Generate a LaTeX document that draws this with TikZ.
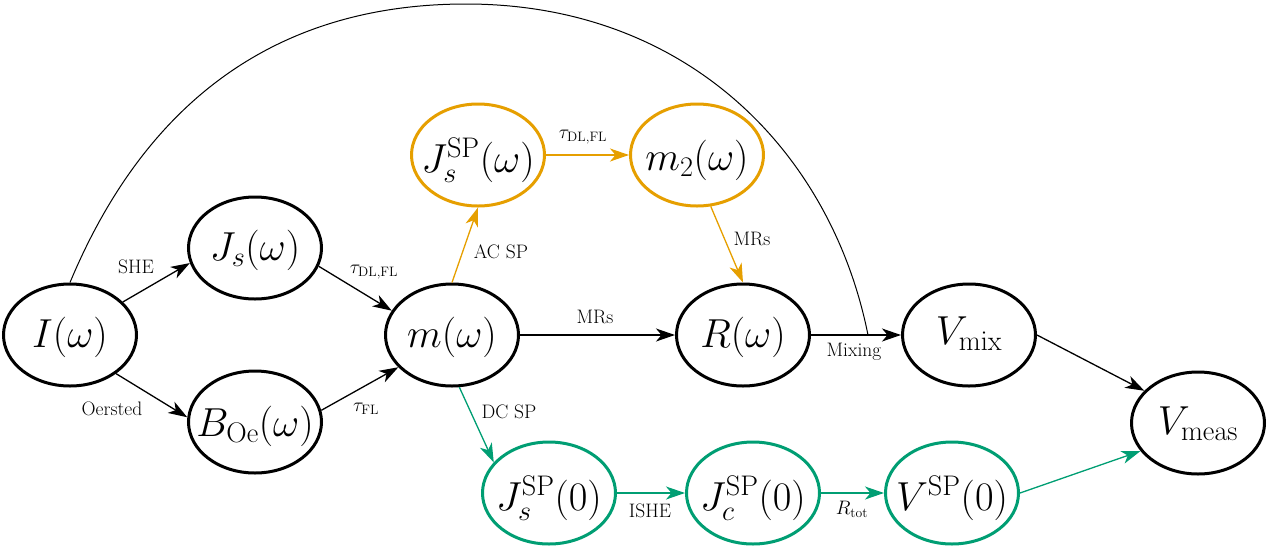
\RequirePackage{fix-cm}
\documentclass[tikz,border=0pt]{standalone}
\usetikzlibrary{arrows.meta,shapes.geometric}
\definecolor{spor}{HTML}{E69F00}
\definecolor{spgr}{HTML}{009E73}
\newcommand{\ntxt}[2][12.5pt]{\makebox[0pt]{\raisebox{-#1}[0pt][0pt]{$#2$}}}
\begin{document}
\begin{tikzpicture}[x=1pt,y=-1pt,
  st/.style={draw, ellipse, line width=3pt, minimum width=133pt, minimum height=102pt, inner sep=0pt, font=\fontsize{40.5}{48}\selectfont},
  ost/.style={st, draw=spor},
  gst/.style={st, draw=spgr},
  conn/.style={line width=1.3pt, -{Stealth[length=19pt,width=13pt,inset=5.5pt]}},
  lbl/.style={inner sep=0pt, anchor=base, font=\fontsize{19.5}{23}\selectfont}]
\useasboundingbox (0,0) rectangle (1270,547);
% nodes
\node[st] (I) at (70,335) {\ntxt{I(\omega)}};
\node[st] (Js) at (255,248) {\ntxt{J_s(\omega)}};
\node[st] (B) at (255,422) {\ntxt[14pt]{B_{\mathrm{Oe}}(\omega)}};
\node[st] (m) at (452,335) {\ntxt{m(\omega)}};
\node[ost] (JsSPw) at (478,155) {\ntxt[17pt]{J_s^{\mathrm{SP}}(\omega)}};
\node[ost] (m2) at (697,155) {\ntxt[15pt]{m_2(\omega)}};
\node[st] (R) at (743,335) {\ntxt{R(\omega)}};
\node[st] (Vmix) at (969,335) {\ntxt[9pt]{V_{\mathrm{mix}}}};
\node[st] (Vmeas) at (1198,423) {\ntxt[11pt]{V_{\mathrm{meas}}}};
\node[gst] (JsSP0) at (549,493) {\ntxt[17pt]{J_s^{\mathrm{SP}}(0)}};
\node[gst] (JcSP0) at (753,493) {\ntxt[17pt]{J_c^{\mathrm{SP}}(0)}};
\node[gst] (VSP0) at (952,493) {\ntxt[17pt]{V^{\mathrm{SP}}(0)}};
\coordinate (arctop) at (466,4);
\coordinate (mixpt) at (868,335);
% connectors
\draw[conn] (I.32) -- (Js.193);
\draw[conn] (I.-40) -- (B.176);
\draw[conn] (Js.-16) -- (m.158);
\draw[conn] (B.10) -- (m.211);
\draw[conn, draw=spor, fill=spor] (m.north) -- (JsSPw.south);
\draw[conn, draw=spor, fill=spor] (JsSPw.east) -- (m2.west);
\draw[conn, draw=spor, fill=spor] (m2.-75) -- (R.north);
\draw[conn] (m.east) -- (R.west);
\draw[conn] (R.east) -- (Vmix.west);
\draw[conn, draw=spgr, fill=spgr] (m.-82) -- (JsSP0.151);
\draw[conn, draw=spgr, fill=spgr] (JsSP0.east) -- (JcSP0.west);
\draw[conn, draw=spgr, fill=spgr] (JcSP0.east) -- (VSP0.west);
\draw[conn, draw=spgr, fill=spgr] (VSP0.east) -- (Vmeas.206);
\draw[conn] (Vmix.east) -- (Vmeas.149);
\draw[line width=1pt] (I.north) .. controls (132,134) and (247,4) .. (arctop)
  .. controls (688,4) and (831.5,152.7) .. (mixpt);
% labels
\node[lbl] (lSHE) at (136,273) {SHE};
\node[lbl] (lOe) at (112,415) {Oersted};
\node[lbl] (lt1) at (374,273.5) {$\tau_{\mathrm{DL,FL}}$};
\node[lbl] (lt2) at (366,411.5) {$\tau_{\mathrm{FL}}$};
\node[lbl] (lAC) at (501,258) {AC SP};
\node[lbl] (lt3) at (583,138.5) {$\tau_{\mathrm{DL,FL}}$};
\node[lbl] (lMR1) at (752,245) {MRs};
\node[lbl] (lMR2) at (595,323) {MRs};
\node[lbl] (lMix) at (854,356.5) {Mixing};
\node[lbl] (lDC) at (509,418) {DC SP};
\node[lbl] (lISHE) at (650,517) {ISHE};
\node[lbl] (lRt) at (852,514.5) {$R_{\mathrm{tot}}$};
\end{tikzpicture}
\end{document}
